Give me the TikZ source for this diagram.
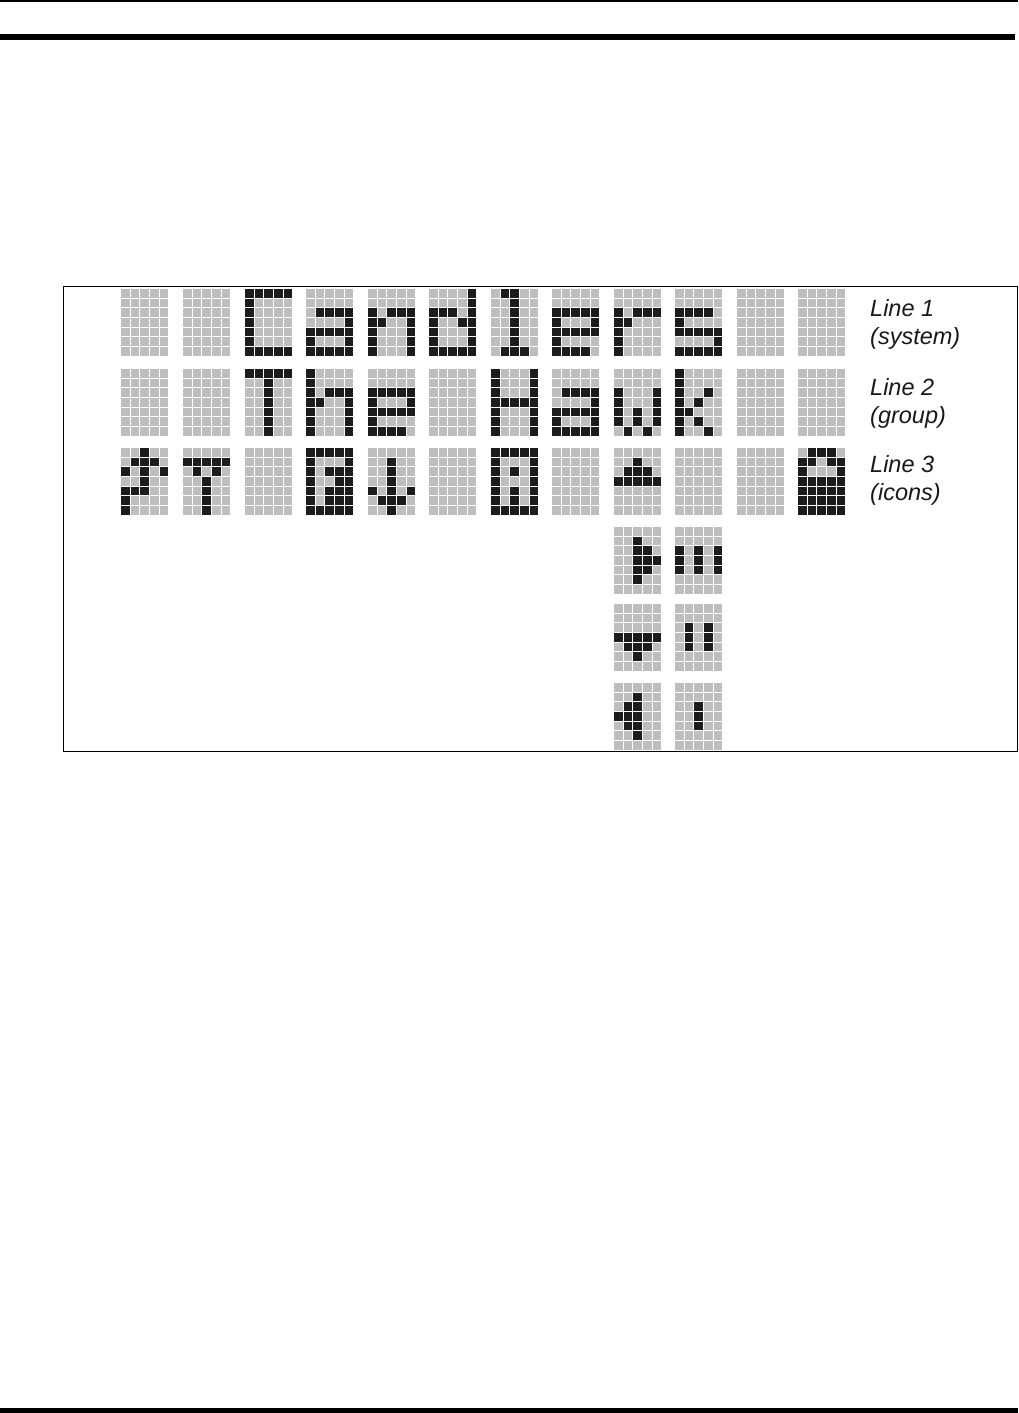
\documentclass[tikz,border=0pt]{standalone}
\usepackage{xcolor}
\usepackage{fontspec}
\setmainfont{Liberation Sans}
\usepackage{tikz}
\usetikzlibrary{positioning}
\definecolor{celloff}{RGB}{190,190,190}
\definecolor{cellon}{RGB}{28,28,28}
\tikzset{
    lcdoff/.style={fill=celloff},
    lcdon/.style={fill=cellon},
    pagerule/.style={draw=black, line width=#1},
    panelbox/.style={rectangle, draw=black, line width=1pt, fill=white,
                     minimum width=954pt, minimum height=465pt, inner sep=0pt},
    linelbl/.style={align=left, inner sep=0pt, text=black!90,
                    font=\fontsize{23.5}{27.3}\selectfont\itshape},
}
\newcommand{\lcdcell}[2]{%
    \ifnum#2=1 \def\cellfill{lcdon}\else \def\cellfill{lcdoff}\fi
    \fill[\cellfill] ({round((#1-1)*9.7)},{round(\r*9.7)})
        rectangle ({round(#1*9.7)-0.6},{round((\r+1)*9.7)-0.6});}
\newcommand{\lcdrow}[5]{\lcdcell{1}{#1}\lcdcell{2}{#2}\lcdcell{3}{#3}\lcdcell{4}{#4}\lcdcell{5}{#5}}
\newcommand{\lcdglyph}[3]{%
    \begin{scope}[shift={(#1,#2)}]
        \foreach \rowbits [count=\r from 0] in {#3} {\expandafter\lcdrow\rowbits}
    \end{scope}}
\newcommand{\lcdblank}[2]{\lcdglyph{#1}{#2}{00000,00000,00000,00000,00000,00000,00000}}
\begin{document}
\begin{tikzpicture}[x=1pt, y=-1pt]
    \useasboundingbox (0,0) rectangle (1018,1413);
    \draw[pagerule=2pt] (0,1) -- (1018,1);
    \draw[pagerule=6pt] (0,37) -- (1015,37);
    \draw[pagerule=5pt] (0,1410.5) -- (1018,1410.5);
    \node[panelbox] (panel) at (540.5,518.5) {};

    % line 1
    \lcdblank{121}{289}
    \lcdblank{183}{289}
    \lcdglyph{245}{289}{11111,10000,10000,10000,10000,10000,11111}
    \lcdglyph{306}{289}{00000,00000,01111,00001,11111,10001,11111}
    \lcdglyph{368}{289}{00000,00000,10111,11001,10001,10001,10001}
    \lcdglyph{429}{289}{00001,00001,11101,10011,10001,10001,11111}
    \lcdglyph{491}{289}{01100,00100,00100,00100,00100,00100,01110}
    \lcdglyph{552}{289}{00000,00000,11111,10001,11111,10000,11110}
    \lcdglyph{614}{289}{00000,00000,10111,11000,10000,10000,10000}
    \lcdglyph{675}{289}{00000,00000,11110,10000,11111,00001,11111}
    \lcdblank{737}{289}
    \lcdblank{798}{289}

    % line 2
    \lcdblank{121}{369}
    \lcdblank{183}{369}
    \lcdglyph{245}{369}{11111,00100,00100,00100,00100,00100,00100}
    \lcdglyph{306}{369}{10000,10000,10111,11001,10001,10001,10001}
    \lcdglyph{368}{369}{00000,00000,11111,10001,11111,10000,11110}
    \lcdblank{429}{369}
    \lcdglyph{491}{369}{10001,10001,10001,11111,10001,10001,10001}
    \lcdglyph{552}{369}{00000,00000,01111,00001,11111,10001,11111}
    \lcdglyph{614}{369}{00000,00000,10001,10001,10101,10101,01010}
    \lcdglyph{675}{369}{10000,10000,10010,10100,11000,10100,10010}
    \lcdblank{737}{369}
    \lcdblank{798}{369}

    % line 3
    \lcdglyph{121}{448}{00100,01110,10101,00100,11100,10000,10000}
    \lcdglyph{183}{448}{00000,11111,01010,00100,00100,00100,00100}
    \lcdblank{245}{448}
    \lcdglyph{306}{448}{11111,10001,10111,10011,10111,10111,11111}
    \lcdglyph{368}{448}{00000,00100,00100,00100,10101,01110,00100}
    \lcdblank{429}{448}
    \lcdglyph{491}{448}{11111,10001,10101,10001,10101,10101,11111}
    \lcdblank{552}{448}
    \lcdglyph{614}{448}{00000,00100,01110,11111,00000,00000,00000}
    \lcdblank{675}{448}
    \lcdblank{737}{448}
    \lcdglyph{798}{448}{01110,11011,10001,11111,11111,11111,11111}

    % icon variants
    \lcdglyph{614}{527}{00000,00100,00110,00111,00110,00100,00000}
    \lcdglyph{675}{527}{00000,00000,10101,10101,10101,00000,00000}
    \lcdglyph{614}{604}{00000,00000,00000,11111,01110,00100,00000}
    \lcdglyph{675}{604}{00000,00000,01010,01010,01010,00000,00000}
    \lcdglyph{614}{683}{00000,00100,01100,11100,01100,00100,00000}
    \lcdglyph{675}{683}{00000,00000,00100,00100,00100,00000,00000}

    \node[linelbl, anchor=base west] (sys) at (870,344) {Line 1\\(system)};
    \node[linelbl, anchor=base west] (grp) at (870,423) {Line 2\\(group)};
    \node[linelbl, anchor=base west] (ico) at (870,500) {Line 3\\(icons)};
\end{tikzpicture}
\end{document}
